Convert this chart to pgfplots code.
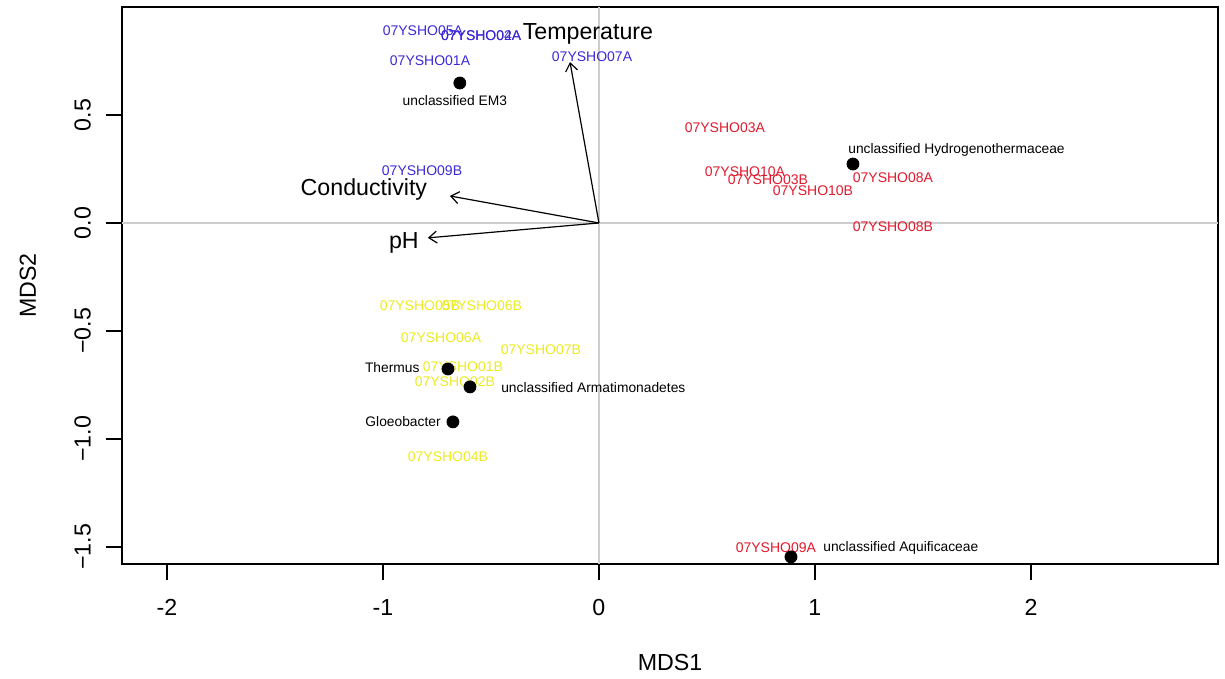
\documentclass[border=0pt]{standalone}
\usepackage{fontspec}
\setmainfont{Liberation Sans}
\usepackage{pgfplots}
\usepackage{pgfplotstable}
\pgfplotsset{compat=1.18}
\usetikzlibrary{arrows.meta}

\definecolor{siteBlue}{RGB}{60,40,215}
\definecolor{siteRed}{RGB}{225,25,45}
\definecolor{siteYellow}{RGB}{235,235,30}
\definecolor{refGrey}{RGB}{205,205,205}

\newcommand{\baseFont}{\fontsize{11.6}{13}\selectfont}
\newcommand{\siteFont}{\fontsize{7}{8}\selectfont}
\newcommand{\sppFont}{\fontsize{6.9}{8}\selectfont}

% site scores, one table per cluster
\pgfplotstableread{
x y label
-0.815 0.889 07YSHO05A
-0.545 0.866 07YSHO02A
-0.545 0.866 07YSHO04A
-0.782 0.750 07YSHO01A
-0.032 0.769 07YSHO07A
-0.819 0.241 07YSHO09B
}\sitesBlue
\pgfplotstableread{
x y label
0.583 0.440 07YSHO03A
0.676 0.236 07YSHO10A
0.782 0.199 07YSHO03B
0.991 0.148 07YSHO10B
1.361 0.208 07YSHO08A
1.361 -0.019 07YSHO08B
0.819 -1.505 07YSHO09A
}\sitesRed
\pgfplotstableread{
x y label
-0.829 -0.384 07YSHO05B
-0.542 -0.384 07YSHO06B
-0.731 -0.532 07YSHO06A
-0.269 -0.588 07YSHO07B
-0.630 -0.667 07YSHO01B
-0.667 -0.736 07YSHO02B
-0.699 -1.083 07YSHO04B
}\sitesYellow

% species scores
\pgfplotstableread{
x y
-0.644 0.648
1.176 0.273
-0.699 -0.676
-0.597 -0.759
-0.676 -0.921
0.889 -1.546
}\species
% species names, grouped by which side of the point they sit on
\pgfplotstableread[col sep=comma]{
x,y,label
-0.667,0.569,unclassified EM3
}\sppBelow
\pgfplotstableread[col sep=comma]{
x,y,label
1.153,0.338,unclassified Hydrogenothermaceae
-0.454,-0.764,unclassified Armatimonadetes
1.037,-1.505,unclassified Aquificaceae
}\sppRight
\pgfplotstableread[col sep=comma]{
x,y,label
-0.829,-0.671,Thermus
-0.731,-0.921,Gloeobacter
}\sppLeft

% environmental vector labels
\pgfplotstableread{
x y label
-0.051 0.874 Temperature
-1.088 0.155 Conductivity
-0.903 -0.092 pH
}\envLabels

\pgfplotsset{
  textlabels/.style={only marks, mark=*, mark size=0pt,
    mark options={draw=none, fill=none},
    nodes near coords, point meta=explicit symbolic,
    nodes near coords style={inner sep=0pt, #1}},
}

\begin{document}
\begin{tikzpicture}
\begin{axis}[
  scale only axis,
  width=548pt, height=278.5pt,
  xmin=-2.208, xmax=2.866, ymin=-1.579, ymax=1.0,
  axis line style={line width=0.8pt},
  tick pos=left,
  tick align=outside,
  major tick length=8pt,
  tick style={black, line width=0.8pt},
  xtick={-2,-1,0,1,2},
  ytick={-1.5,-1,-0.5,0,0.5},
  yticklabels={−1.5,−1.0,−0.5,0.0,0.5},
  /pgf/number format/assume math mode=true,
  tick label style={font=\baseFont},
  yticklabel style={rotate=90, anchor=south},
  xticklabel shift=6pt,
  yticklabel shift=4pt,
  xlabel={MDS1}, ylabel={MDS2},
  label style={font=\baseFont},
  xlabel style={at={(axis description cs:0.5,-0.176)}, anchor=center},
  ylabel style={at={(axis description cs:-0.0858,0.5)}, anchor=center},
  clip=false,
]
% reference lines through the origin
\addplot[refGrey, line width=0.6pt] coordinates {(0,-1.579) (0,1.0)};
\addplot[refGrey, line width=0.6pt] coordinates {(-2.208,0) (2.866,0)};

% site labels
\addplot[textlabels={anchor=center, text=siteBlue, font=\siteFont}]
  table[meta=label] {\sitesBlue};
\addplot[textlabels={anchor=center, text=siteRed, font=\siteFont}]
  table[meta=label] {\sitesRed};
\addplot[textlabels={anchor=center, text=siteYellow, font=\siteFont}]
  table[meta=label] {\sitesYellow};

% species points and names
\addplot[only marks, mark=*, mark size=3pt, black] table {\species};
\addplot[textlabels={anchor=center, text=black, font=\sppFont}]
  table[meta=label] {\sppBelow};
\addplot[textlabels={anchor=west, text=black, font=\sppFont}]
  table[meta=label] {\sppRight};
\addplot[textlabels={anchor=east, text=black, font=\sppFont}]
  table[meta=label] {\sppLeft};

% environmental vectors
\addplot[black, line width=0.6pt, -{Straight Barb[length=4pt, width=6pt]}]
  coordinates {(0,0) (-0.134,0.745)};
\addplot[black, line width=0.6pt, -{Straight Barb[length=4pt, width=6pt]}]
  coordinates {(0,0) (-0.690,0.125)};
\addplot[black, line width=0.6pt, -{Straight Barb[length=4pt, width=6pt]}]
  coordinates {(0,0) (-0.792,-0.069)};
\addplot[textlabels={anchor=center, text=black, font=\baseFont}]
  table[meta=label] {\envLabels};
\end{axis}
\path[use as bounding box]
  ([shift={(-61pt,-57.5pt)}]current axis.south west)
  rectangle ([shift={(3.5pt,3.5pt)}]current axis.north east);
\end{tikzpicture}
\end{document}
